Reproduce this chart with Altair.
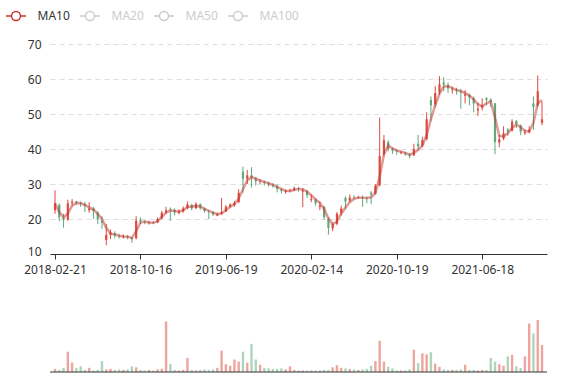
import json
import altair as alt
import pandas as pd

# ---- data ----
tick_index = [0, 20, 40, 60, 80, 100]
tick_labels = ["2018-02-21", "2018-10-16", "2019-06-19", "2020-02-14", "2020-10-19", "2021-06-18"]
legend_names = ["MA10", "MA20", "MA50", "MA100"]

opens = [22.5, 24.0, 20.5, 19.8, 24.6, 25.0, 24.6, 24.2, 22.5, 23.0,
         21.8, 19.5, 14.0, 15.5, 16.0, 15.2, 14.9, 15.1, 14.6, 14.5,
         19.8, 19.2, 18.9, 19.0, 19.0, 20.2, 21.9, 22.8, 22.6, 21.8,
         22.2, 23.1, 24.0, 23.1, 24.2, 23.0, 22.2, 22.0, 21.0, 21.5,
         22.2, 23.6, 24.0, 24.8, 33.5, 31.5, 32.5, 31.5, 30.6, 30.6,
         30.2, 29.8, 29.3, 28.4, 27.7, 28.0, 28.3, 28.8, 27.8, 28.0,
         25.5, 25.6, 23.4, 23.5, 20.0, 17.3, 18.6, 21.8, 26.0, 25.3,
         26.3, 26.1, 26.3, 26.0, 27.5, 27.2, 29.6, 38.5, 42.0, 40.0,
         39.4, 38.8, 38.9, 38.4, 38.2, 41.5, 41.0, 42.8, 54.0, 52.8,
         56.2, 59.0, 58.2, 56.8, 57.0, 56.5, 55.2, 55.4, 54.5, 51.0,
         51.8, 54.5, 54.0, 53.0, 41.8, 43.0, 45.5, 45.2, 48.0, 46.8,
         44.5, 44.9, 53.0, 52.5, 47.5]
closes = [24.5, 20.5, 19.8, 24.5, 25.0, 24.7, 24.3, 23.8, 23.0, 22.3,
          20.0, 19.0, 15.5, 16.2, 15.3, 15.0, 15.1, 14.8, 14.2, 19.5,
          19.4, 19.0, 19.1, 18.9, 20.0, 21.8, 22.5, 22.6, 21.9, 22.2,
          23.0, 24.2, 23.0, 24.3, 23.2, 22.3, 22.1, 21.3, 21.4, 22.0,
          23.5, 24.1, 24.6, 27.5, 31.5, 32.5, 31.8, 30.8, 30.7, 30.3,
          29.9, 29.5, 28.6, 28.0, 28.0, 28.1, 28.8, 28.6, 28.2, 26.8,
          25.8, 24.5, 23.8, 20.5, 17.5, 18.5, 21.5, 23.0, 25.0, 26.1,
          26.2, 26.2, 26.1, 25.9, 27.0, 29.5, 38.0, 42.5, 40.0, 39.5,
          39.2, 39.0, 38.5, 38.0, 40.0, 40.8, 42.5, 48.5, 52.5, 56.0,
          58.5, 58.4, 57.3, 57.0, 56.6, 56.2, 55.6, 54.8, 53.0, 51.5,
          52.5, 54.0, 53.5, 42.0, 42.8, 44.5, 45.0, 47.8, 47.2, 45.0,
          44.8, 45.5, 52.0, 56.5, 48.5]
highs = [28.2, 24.5, 21.5, 25.5, 25.7, 25.2, 25.0, 24.8, 24.8, 23.5,
         22.3, 20.8, 18.6, 17.0, 16.5, 15.8, 15.6, 15.4, 14.9, 20.8,
         20.5, 19.6, 19.5, 19.4, 20.4, 22.3, 23.5, 23.3, 23.0, 22.8,
         23.6, 25.0, 24.3, 24.8, 24.5, 23.3, 22.6, 22.2, 21.8, 26.0,
         24.0, 24.5, 25.2, 28.5, 35.0, 34.0, 34.8, 32.0, 31.4, 31.0,
         30.6, 30.2, 29.8, 28.8, 28.4, 28.6, 29.3, 29.2, 28.8, 28.3,
         27.0, 25.9, 25.0, 23.8, 20.5, 19.0, 22.0, 23.8, 26.5, 27.0,
         26.8, 26.6, 26.7, 26.4, 28.0, 30.0, 49.0, 44.0, 42.5, 40.4,
         39.8, 39.5, 39.2, 38.8, 41.5, 44.0, 43.5, 50.5, 55.0, 58.0,
         60.8, 60.5, 59.0, 57.8, 57.5, 57.2, 56.8, 55.8, 55.0, 53.2,
         54.5, 54.8, 54.5, 53.2, 44.0, 46.5, 46.0, 48.5, 48.3, 47.0,
         45.5, 46.5, 55.0, 61.0, 53.5]
lows = [21.5, 19.3, 17.5, 19.5, 23.8, 24.0, 23.5, 22.0, 21.8, 20.0,
        18.5, 17.2, 12.5, 14.3, 14.5, 14.4, 14.4, 14.2, 13.2, 14.2,
        18.6, 18.5, 18.4, 18.5, 18.9, 20.0, 21.5, 19.5, 21.0, 21.3,
        21.8, 22.8, 22.5, 22.8, 22.6, 21.8, 20.0, 20.9, 20.8, 21.2,
        22.0, 23.2, 23.5, 24.5, 27.5, 30.0, 29.0, 29.5, 30.0, 29.6,
        29.2, 28.9, 27.6, 27.3, 27.2, 27.6, 28.0, 27.8, 23.4, 26.0,
        24.8, 23.8, 22.5, 19.8, 15.5, 16.5, 18.2, 21.0, 22.8, 24.8,
        25.6, 25.8, 23.5, 24.5, 24.2, 27.0, 29.3, 38.0, 39.3, 38.6,
        38.3, 38.5, 38.0, 37.3, 38.0, 39.5, 40.5, 42.5, 48.0, 52.0,
        55.5, 56.5, 56.0, 55.8, 55.5, 51.5, 53.0, 52.5, 50.5, 49.5,
        51.0, 52.5, 52.0, 38.5, 40.5, 42.5, 43.8, 45.0, 46.0, 44.0,
        44.0, 44.5, 45.5, 52.0, 46.8]
volumes = [6, 4, 8, 39, 18, 8, 11, 4, 8, 3,
           4, 21, 5, 6, 4, 5, 4, 5, 11, 9,
           4, 3, 4, 3, 5, 6, 97, 15, 4, 3,
           4, 27, 4, 3, 4, 5, 4, 5, 8, 41,
           15, 12, 24, 20, 39, 18, 54, 24, 14, 8,
           7, 6, 6, 7, 5, 11, 4, 3, 3, 3,
           3, 3, 3, 4, 4, 9, 13, 8, 7, 6,
           5, 4, 5, 6, 12, 21, 60, 20, 10, 7,
           3, 3, 3, 5, 43, 17, 36, 34, 38, 16,
           10, 5, 4, 4, 4, 5, 14, 4, 4, 3,
           4, 4, 27, 20, 15, 12, 30, 33, 11, 8,
           30, 93, 74, 100, 52]
ma10 = [24.5, 22.0, 20.5, 21.5, 23.8, 24.6, 24.5, 24.0, 23.3, 22.7,
        21.5, 20.0, 17.5, 15.8, 15.6, 15.2, 15.0, 14.9, 14.6, 16.5,
        19.0, 19.3, 19.0, 18.9, 19.3, 20.6, 21.8, 22.4, 22.3, 22.1,
        22.5, 23.4, 23.6, 23.7, 23.6, 22.9, 22.3, 21.8, 21.4, 21.6,
        22.5, 23.5, 24.2, 25.8, 28.5, 31.0, 32.0, 31.5, 31.0, 30.6,
        30.2, 29.8, 29.2, 28.6, 28.1, 28.0, 28.3, 28.6, 28.5, 27.8,
        26.8, 25.6, 24.6, 22.8, 20.2, 18.5, 19.3, 21.5, 23.3, 24.8,
        25.8, 26.1, 26.1, 26.0, 26.2, 27.5, 32.0, 38.5, 41.0, 40.2,
        39.6, 39.2, 38.9, 38.4, 38.8, 39.8, 41.0, 44.0, 48.5, 52.5,
        55.8, 57.8, 58.0, 57.4, 56.9, 56.5, 56.0, 55.3, 54.2, 52.8,
        52.2, 53.0, 53.6, 49.0, 43.8, 43.5, 44.5, 46.0, 47.0, 46.2,
        45.2, 45.0, 47.5, 53.0, 54.0]

# ---- styles ----
UP = "#dd4b3e"
DOWN = "#5fa97c"
MA_COLOR = "#c23531"
INACTIVE = "#cccccc"
TEXT = "#333333"
FONT = "Noto Sans"

df = pd.DataFrame({
    "i": list(range(len(closes))),
    "o": opens, "c": closes, "h": highs, "l": lows,
    "v": volumes, "ma": ma10,
})
df["name"] = legend_names[0]

label_expr = json.dumps(tick_labels) + "[round(datum.value / 20)]"

x_enc = alt.X(
    "i:Q",
    scale=alt.Scale(domain=[0, len(closes) - 1], nice=False, zero=False),
    axis=alt.Axis(values=tick_index, labelExpr=label_expr, title=None, grid=False,
                  domainColor=TEXT, tickColor=TEXT, tickSize=5, labelColor=TEXT,
                  labelFontSize=12, labelPadding=5, labelFlush=False, labelOverlap=False),
)

y_scale = alt.Scale(domain=[10, 70], nice=False, zero=False)
y_axis = alt.Axis(values=[10, 20, 30, 40, 50, 60, 70], title=None, grid=True,
                  gridDash=[5, 4], gridColor="#dddddd", ticks=False, domain=False,
                  labelPadding=9, labelColor=TEXT, labelFontSize=12,
                  labelOffset=alt.ExprRef("datum.value == 10 ? -3 : 0"))

up_cond = alt.condition("datum.c >= datum.o", alt.value(UP), alt.value(DOWN))

base = alt.Chart(df)

wick = base.mark_rule(strokeWidth=1).encode(
    x=x_enc,
    y=alt.Y("l:Q", scale=y_scale, axis=y_axis),
    y2="h:Q",
    color=up_cond,
)
body = base.mark_bar(size=2.2).encode(
    x=x_enc,
    y=alt.Y("o:Q", scale=y_scale, axis=y_axis),
    y2="c:Q",
    color=up_cond,
)

symbol_path = ("M-0.8,0L-0.36,0M0.36,0L0.8,0M-0.36,0A0.36,0.36,0,1,1,0.36,0"
               "A0.36,0.36,0,1,1,-0.36,0")
ma_line = base.mark_line(strokeWidth=2.5, opacity=0.5).encode(
    x=x_enc,
    y=alt.Y("ma:Q", scale=y_scale, axis=y_axis),
    color=alt.Color(
        "name:N",
        scale=alt.Scale(domain=legend_names, range=[MA_COLOR, INACTIVE, INACTIVE, INACTIVE]),
        legend=alt.Legend(
            title=None, orient="none", direction="horizontal",
            legendX=-47.5, legendY=-41.5,
            symbolType=symbol_path, symbolSize=625, symbolStrokeWidth=1.5,
            symbolOpacity=1, symbolFillColor="white",
            labelFontSize=12, labelOffset=8, columnPadding=6, gridAlign="each",
            labelColor=alt.ExprRef("datum.value == 'MA10' ? '#333333' : '#cccccc'"),
        ),
    ),
)

price = alt.layer(wick, body, ma_line)

vol_scale = alt.Scale(domain=[0, 100], range=[328, 276], nice=False)
vol_bars = base.mark_bar(size=2.4, opacity=0.5).encode(
    x=x_enc,
    y=alt.Y("v:Q", scale=vol_scale, axis=None),
    color=up_cond,
)
vol_base = alt.Chart(pd.DataFrame({"z": [0]})).mark_rule(color=TEXT, strokeWidth=1).encode(
    y=alt.Y("z:Q", scale=vol_scale, axis=None),
)
volume = alt.layer(vol_bars, vol_base)

chart = (
    alt.layer(price, volume)
    .resolve_scale(y="independent")
    .properties(
        width=497, height=210,
        autosize=alt.AutoSizeParams(type="none"),
        padding={"left": 50, "top": 44, "right": 30, "bottom": 126},
        background="white",
    )
    .configure(font=FONT)
    .configure_view(strokeWidth=0, stroke="transparent")
)

chart.save("out.html", embed_options={"renderer": "svg", "actions": False})
